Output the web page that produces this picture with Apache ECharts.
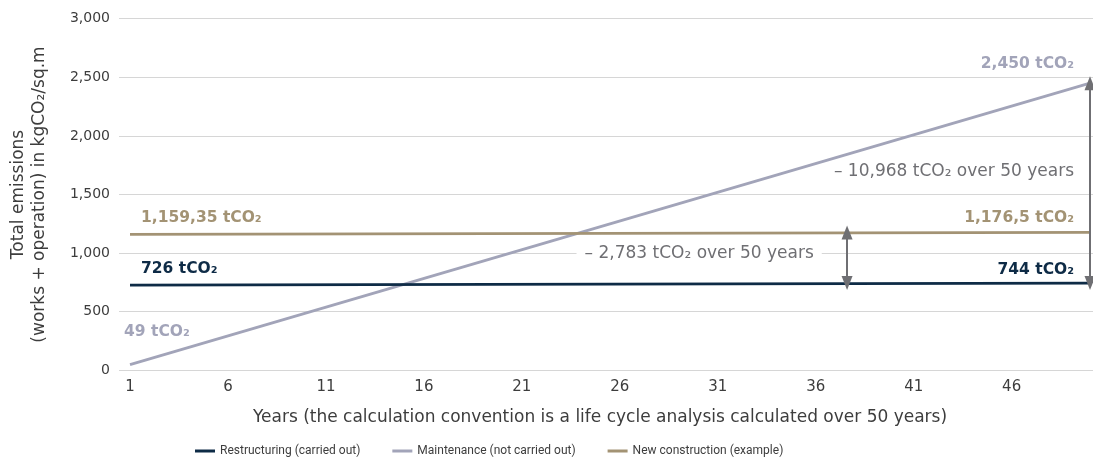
<!DOCTYPE html>
<html>
<head>
<meta charset="utf-8">
<script src="https://cdn.jsdelivr.net/npm/echarts@6/dist/echarts.min.js"></script>
<style>
html,body{margin:0;padding:0;background:#fff;}
#c{width:1093px;height:475px;}
</style>
</head>
<body>
<div id="c"></div>
<script>
// ---- data ----
const seriesNames = ['Restructuring (carried out)', 'Maintenance (not carried out)', 'New construction (example)'];
const years = [1, 50];
const restructuring = [726, 744];
const maintenance = [49, 2450];
const newConstruction = [1159.35, 1176.5];
const xTickLabels = [1, 6, 11, 16, 21, 26, 31, 36, 41, 46];
const yTicks = [0, 500, 1000, 1500, 2000, 2500, 3000];
const gapNewVsRestructuring = '– 2,783 tCO₂ over 50 years';
const gapMaintVsRestructuring = '– 10,968 tCO₂ over 50 years';
const yAxisTitle = 'Total emissions\n(works + operation) in kgCO₂/sq.m';
const xAxisTitle = 'Years (the calculation convention is a life cycle analysis calculated over 50 years)';

const NAVY = '#0e2b46', LAV = '#a2a4b9', KHAKI = '#a39374', GREY = '#6f6f73', TXT = '#3d3d3d';
const FONT = '"DejaVu Sans", sans-serif';
const LEGEND_FONT = 'Roboto, sans-serif';

function pts(vals){ return years.map((y,i)=>[y, vals[i]]); }
function fmt(v){ return v.toLocaleString('en-US'); }

const chart = echarts.init(document.getElementById('c'), null, {renderer:'canvas'});

function valLabel(coord, text, color, offset, align){
  return {
    coord: coord,
    symbol: 'circle', symbolSize: 0,
    label: {
      show: true, position: 'inside', formatter: text, color: color,
      fontFamily: FONT, fontWeight: 'bold', fontSize: 15.5,
      align: align, verticalAlign: 'middle', offset: offset
    }
  };
}
function noteLabel(coord, text, align, offset, bg){
  const l = { show: true, position: 'inside', formatter: text, color: GREY,
              fontFamily: FONT, fontSize: 17, align: align, verticalAlign: 'middle', offset: offset };
  if (bg) { l.backgroundColor = '#fff'; l.padding = [2, 8, 2, 8]; }
  return { coord: coord, symbol: 'circle', symbolSize: 0, label: l };
}

const option = {
  animation: false,
  grid: { left: 119, right: 0, top: 18.7, bottom: 104.7 },
  xAxis: {
    type: 'value', min: 0.4385, max: 50.153,
    axisLine: { show: false }, axisTick: { show: false }, splitLine: { show: false },
    axisLabel: { customValues: xTickLabels, color: TXT, fontFamily: FONT, fontSize: 15, margin: 9 }
  },
  yAxis: {
    type: 'value', min: yTicks[0], max: yTicks[yTicks.length-1], interval: 500,
    axisLine: { show: false }, axisTick: { show: false },
    splitLine: { lineStyle: { color: '#d6d6d6', width: 1 } },
    axisLabel: { color: TXT, fontFamily: FONT, fontSize: 14, margin: 9, formatter: v => fmt(v) }
  },
  legend: {
    left: 190, top: 440, itemWidth: 20, itemHeight: 3, itemGap: 32, icon: 'rect',
    textStyle: { fontFamily: LEGEND_FONT, fontSize: 12, color: TXT, padding: [0,0,0,0] },
    data: seriesNames
  },
  graphic: [
    { type: 'text', x: 28.8, y: 194.5, rotation: Math.PI/2,
      style: { text: yAxisTitle, fontFamily: FONT, fontSize: 17, fill: TXT,
               align: 'center', verticalAlign: 'middle', lineHeight: 21 } },
    { type: 'text', x: 600, y: 418,
      style: { text: xAxisTitle, fontFamily: FONT, fontSize: 17, fill: TXT,
               align: 'center', verticalAlign: 'middle' } }
  ],
  series: [
    {
      name: seriesNames[0], type: 'line', data: pts(restructuring), symbol: 'none',
      lineStyle: { color: NAVY, width: 2.8 }, itemStyle: { color: NAVY }, z: 3,
      markPoint: { silent: true, data: [
        valLabel([years[0], restructuring[0]], '726 tCO₂', NAVY, [11, -16], 'left'),
        valLabel([years[1], restructuring[1]], '744 tCO₂', NAVY, [-16, -13], 'right')
      ]},
      markLine: {
        silent: true, symbol: ['triangle', 'triangle'], symbolSize: [11, 14],
        label: { show: false }, emphasis: { disabled: true },
        lineStyle: { color: GREY, width: 2, type: 'solid' },
        data: [
          [{ coord: [37.6, newConstruction[1]] }, { coord: [37.6, restructuring[1]] }],
          [{ coord: [50, maintenance[1]] }, { coord: [50, restructuring[1]] }]
        ]
      }
    },
    {
      name: seriesNames[1], type: 'line', data: pts(maintenance), symbol: 'none',
      lineStyle: { color: LAV, width: 2.8 }, itemStyle: { color: LAV }, z: 2,
      markPoint: { silent: true, data: [
        valLabel([years[0], maintenance[0]], '49 tCO₂', LAV, [-6, -33], 'left'),
        valLabel([years[1], maintenance[1]], '2,450 tCO₂', LAV, [-16, -19], 'right'),
        noteLabel([50, 1692], gapMaintVsRestructuring, 'right', [-16, 0], false),
        noteLabel([30.05, 1000], gapNewVsRestructuring, 'center', [0, 0], true)
      ]}
    },
    {
      name: seriesNames[2], type: 'line', data: pts(newConstruction), symbol: 'none',
      lineStyle: { color: KHAKI, width: 2.8 }, itemStyle: { color: KHAKI }, z: 3,
      markPoint: { silent: true, data: [
        valLabel([years[0], newConstruction[0]], '1,159,35 tCO₂', KHAKI, [11, -16], 'left'),
        valLabel([years[1], newConstruction[1]], '1,176,5 tCO₂', KHAKI, [-16, -14.4], 'right')
      ]}
    }
  ]
};
chart.setOption(option);
</script>
</body>
</html>
